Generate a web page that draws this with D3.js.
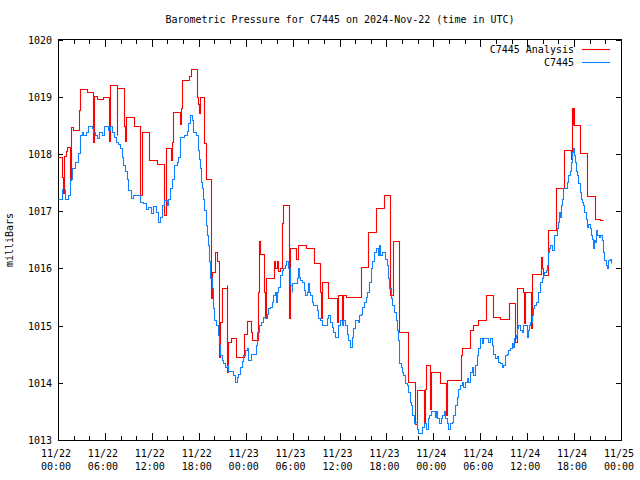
<!DOCTYPE html>
<html><head><meta charset="utf-8">
<script src="https://cdn.jsdelivr.net/npm/d3@7"></script>
<style>body{margin:0;background:#fff}svg{display:block}text{font-family:"DejaVu Sans Mono",monospace;font-size:10px;fill:#000}</style>
</head><body><svg id="c" width="640" height="480"></svg>
<script>
const title = "Barometric Pressure for C7445 on 2024-Nov-22 (time in UTC)";
const yLabel = "milliBars";
const seriesNames = ["C7445 Analysis", "C7445"];
const seriesColors = ["#ff0000", "#1080ff"];
const yTicks = [1013,1014,1015,1016,1017,1018,1019,1020];
const xTickHours = [0,6,12,18,24,30,36,42,48,54,60,66,72];
// [hours since 2024-11-22 00:00 UTC, mbar]
const analysis = [
[0,1017.95],[0.55,1017.6],[0.65,1017.32],[0.8,1017.97],[0.98,1018.05],[1.11,1018.12],[1.5,1017.55],[1.62,1018.47],[1.96,1018.42],[2.69,1018.77],[2.77,1019.13],[3.75,1019.09],[4.52,1018.2],[4.62,1019.01],[4.95,1018.96],[5.8,1019.0],[6.55,1018.23],[6.65,1019.2],[7.5,1018.33],[7.6,1019.15],[8.48,1018.48],[8.55,1018.23],[8.66,1018.65],[9.72,1018.56],[9.76,1018.49],[10.55,1017.28],[10.7,1018.38],[11.7,1017.89],[12.62,1017.82],[13.6,1016.93],[13.75,1018.1],[14.45,1017.89],[14.55,1018.2],[14.75,1018.73],[15.6,1018.53],[15.7,1018.81],[15.81,1019.29],[16.75,1019.37],[17.0,1019.48],[17.73,1019.0],[17.94,1018.88],[18.0,1018.71],[18.1,1019.0],[18.67,1018.88],[18.71,1018.19],[18.89,1017.57],[19.52,1016.52],[19.6,1015.48],[19.73,1015.94],[20.08,1016.29],[20.37,1016.12],[20.55,1014.45],[20.75,1015.07],[21.01,1015.65],[21.57,1015.71],[21.65,1014.19],[21.78,1014.72],[22.08,1014.78],[22.72,1014.45],[23.83,1014.86],[24.13,1015.08],[24.68,1014.89],[24.77,1014.75],[25.62,1015.59],[25.7,1016.47],[25.83,1016.25],[26.39,1015.59],[26.5,1015.13],[26.6,1015.84],[27.66,1016.12],[27.8,1016.0],[27.97,1016.12],[28.18,1015.95],[28.4,1016.0],[28.69,1016.79],[28.81,1017.11],[29.55,1015.13],[29.67,1016.35],[30.43,1016.17],[30.73,1016.4],[31.71,1016.35],[32.78,1016.09],[33.5,1015.59],[33.6,1015.13],[33.72,1015.77],[34.57,1015.48],[35.64,1015.07],[35.8,1015.53],[36.3,1015.07],[36.45,1015.53],[36.8,1015.5],[38.7,1016.03],[39.68,1016.64],[40.66,1017.05],[41.73,1017.29],[42.4,1016.35],[42.5,1015.53],[42.8,1016.47],[43.65,1014.89],[44.71,1014.02],[45.6,1013.28],[45.87,1013.87],[46.85,1013.32],[46.95,1013.9],[47.02,1014.31],[47.6,1013.54],[47.75,1014.19],[48.85,1013.99],[49.6,1013.44],[49.7,1014.05],[51.53,1014.48],[51.62,1014.61],[52.69,1014.92],[53.11,1015.01],[53.75,1015.1],[54.73,1015.53],[55.67,1015.15],[56.52,1015.11],[57.71,1015.39],[58.5,1014.72],[58.7,1015.65],[59.42,1015.59],[59.55,1015.04],[59.7,1015.59],[60.5,1014.95],[60.65,1015.9],[61.72,1016.2],[61.85,1016.0],[62.0,1015.88],[62.7,1016.67],[63.72,1017.41],[64.74,1018.07],[65.6,1017.92],[65.69,1018.8],[65.8,1018.5],[65.85,1018.8],[65.95,1018.5],[66.77,1018.01],[67.6,1017.26],[68.67,1016.87],[69.3,1016.84],[69.65,1016.84]
];
const observed = [
[0,1017.22],[0.5,1017.39],[0.95,1017.22],[1.3,1017.28],[1.53,1017.57],[1.83,1017.75],[2.17,1017.86],[2.51,1018.01],[2.77,1018.33],[3.03,1018.39],[3.24,1018.33],[3.54,1018.39],[3.88,1018.49],[4.3,1018.45],[4.52,1018.39],[4.73,1018.33],[4.95,1018.27],[5.24,1018.39],[5.58,1018.33],[5.92,1018.49],[6.35,1018.42],[6.65,1018.49],[6.86,1018.38],[7.2,1018.3],[7.42,1018.21],[7.71,1018.18],[7.93,1018.1],[8.14,1017.95],[8.36,1017.81],[8.57,1017.7],[8.78,1017.57],[8.99,1017.37],[9.29,1017.23],[9.63,1017.29],[10.49,1017.16],[10.91,1017.14],[11.21,1017.04],[11.55,1017.07],[11.85,1016.96],[12.19,1017.09],[12.49,1016.99],[12.75,1016.81],[13.08,1016.9],[13.34,1017.11],[13.55,1017.19],[13.9,1017.11],[14.1,1017.22],[14.32,1017.4],[14.54,1017.57],[14.83,1017.81],[15.18,1017.86],[15.39,1017.95],[15.6,1018.3],[16.15,1018.33],[16.46,1018.4],[16.67,1018.54],[16.84,1018.68],[17.1,1018.59],[17.31,1018.39],[17.6,1018.33],[17.86,1018.07],[18.03,1017.92],[18.16,1017.75],[18.29,1017.51],[18.46,1017.4],[18.58,1017.22],[18.71,1017.02],[18.89,1016.76],[19.05,1016.58],[19.14,1016.41],[19.31,1016.12],[19.48,1015.83],[19.65,1015.65],[19.82,1015.3],[19.99,1015.1],[20.2,1015.01],[20.42,1014.83],[20.59,1014.66],[20.72,1014.48],[20.93,1014.4],[21.14,1014.34],[21.36,1014.28],[21.57,1014.31],[21.78,1014.2],[22.42,1014.13],[22.63,1014.02],[22.85,1014.1],[23.06,1014.16],[23.27,1014.28],[23.49,1014.38],[23.7,1014.48],[23.91,1014.57],[24.13,1014.6],[24.34,1014.4],[24.68,1014.5],[25.28,1014.66],[25.49,1014.89],[25.7,1015.01],[25.96,1015.07],[26.18,1015.15],[26.47,1015.13],[26.69,1015.21],[26.9,1015.3],[27.11,1015.33],[27.33,1015.42],[27.54,1015.53],[27.75,1015.59],[27.84,1015.42],[27.97,1015.59],[28.18,1015.68],[28.39,1015.88],[28.6,1015.97],[28.81,1016.0],[29.03,1016.06],[29.19,1016.12],[29.45,1016.0],[29.67,1015.71],[29.88,1015.59],[29.96,1015.74],[30.52,1015.83],[30.73,1016.0],[30.82,1015.85],[30.99,1015.8],[31.25,1015.77],[31.42,1015.62],[31.59,1015.53],[31.8,1015.59],[31.93,1015.74],[32.1,1015.59],[32.23,1015.53],[32.44,1015.42],[32.65,1015.36],[33.08,1015.27],[33.29,1015.13],[33.5,1015.1],[33.72,1015.01],[34.36,1015.13],[34.57,1015.18],[34.78,1015.07],[35.0,1014.98],[35.21,1014.89],[35.42,1014.8],[35.85,1015.01],[36.06,1015.1],[36.28,1015.01],[36.49,1015.1],[36.7,1015.01],[36.92,1014.86],[37.13,1014.75],[37.34,1014.63],[37.56,1014.8],[37.77,1014.95],[37.98,1015.1],[38.33,1015.07],[38.49,1015.18],[38.75,1015.21],[38.92,1015.33],[39.17,1015.42],[39.35,1015.5],[39.56,1015.59],[39.77,1015.77],[40.03,1016.0],[40.2,1016.12],[40.37,1016.29],[40.63,1016.35],[40.88,1016.23],[41.05,1016.41],[41.22,1016.23],[41.4,1016.29],[41.82,1016.17],[42.03,1016.06],[42.24,1015.83],[42.37,1015.65],[42.55,1015.48],[42.75,1015.36],[43.01,1015.24],[43.19,1015.1],[43.35,1014.92],[43.52,1014.75],[43.65,1014.34],[43.82,1014.28],[43.95,1014.19],[44.16,1014.13],[44.37,1013.99],[44.59,1013.96],[44.8,1013.84],[45.01,1013.67],[45.14,1013.61],[45.31,1013.44],[45.49,1013.29],[45.65,1013.32],[45.87,1013.2],[46.07,1013.12],[46.59,1013.23],[46.84,1013.29],[47.02,1013.2],[47.28,1013.38],[47.44,1013.44],[47.7,1013.5],[48.21,1013.41],[48.3,1013.5],[48.47,1013.38],[48.72,1013.29],[48.98,1013.38],[49.15,1013.44],[49.32,1013.5],[49.49,1013.38],[49.7,1013.29],[49.91,1013.2],[50.13,1013.29],[50.34,1013.32],[50.55,1013.44],[50.77,1013.61],[50.98,1013.76],[51.19,1013.9],[51.41,1013.96],[51.62,1014.02],[51.83,1013.93],[52.05,1014.02],[52.26,1014.08],[52.47,1014.02],[52.69,1014.19],[52.9,1014.28],[53.11,1014.13],[53.32,1014.31],[53.54,1014.48],[53.75,1014.6],[53.96,1014.78],[54.18,1014.69],[54.39,1014.79],[55.0,1014.72],[55.2,1014.79],[55.46,1014.66],[55.67,1014.51],[55.88,1014.43],[56.1,1014.46],[56.31,1014.37],[56.52,1014.34],[56.74,1014.28],[56.95,1014.31],[57.16,1014.48],[57.38,1014.5],[57.59,1014.57],[57.8,1014.6],[58.02,1014.69],[58.23,1014.63],[58.36,1014.78],[58.53,1014.83],[58.66,1014.95],[58.79,1015.01],[59.08,1014.92],[59.3,1014.89],[59.51,1015.01],[59.93,1014.8],[60.06,1014.92],[60.23,1015.01],[60.36,1015.07],[60.57,1015.18],[60.78,1015.3],[60.91,1015.36],[61.09,1015.42],[61.34,1015.59],[61.68,1015.77],[61.85,1015.83],[62.06,1015.88],[62.19,1015.94],[62.37,1015.97],[62.49,1016.06],[62.62,1016.29],[62.79,1016.35],[62.95,1016.41],[63.13,1016.32],[63.47,1016.58],[63.65,1016.59],[63.81,1016.7],[63.98,1016.81],[64.11,1016.99],[64.24,1016.9],[64.36,1017.11],[64.49,1017.22],[64.62,1017.4],[65.09,1017.51],[65.26,1017.63],[65.44,1017.7],[65.6,1017.86],[65.73,1018.04],[65.86,1018.1],[65.98,1017.98],[66.11,1017.86],[66.24,1017.7],[66.37,1017.63],[66.5,1017.49],[66.75,1017.34],[66.88,1017.22],[67.05,1017.16],[67.18,1017.11],[67.31,1016.99],[67.48,1016.87],[67.65,1016.73],[67.82,1016.78],[68.0,1016.7],[68.16,1016.58],[68.25,1016.52],[68.38,1016.35],[68.5,1016.5],[68.67,1016.46],[68.8,1016.67],[68.97,1016.58],[69.18,1016.55],[69.35,1016.58],[69.52,1016.5],[69.69,1016.29],[69.86,1016.15],[70.04,1016.06],[70.2,1016.0],[70.37,1016.15],[70.55,1016.17],[70.72,1016.1]
];

const base = Date.UTC(2024,10,22);
const toDate = h => new Date(base + h*3600e3);
const svg = d3.select("#c");
const L=58, R=621, T=39.5, B=440;
const x = d3.scaleUtc().domain([toDate(0), toDate(72)]).range([L,R]);
const y = d3.scaleLinear().domain([1013,1020]).range([B,T]);
const px = v => Math.round(v) + 0.5;

// frame
svg.append("rect").attr("x",L+0.5).attr("y",T).attr("width",R-L).attr("height",B-T)
  .attr("fill","none").attr("stroke","#000").attr("stroke-width",1).attr("shape-rendering","crispEdges");

const major = xTickHours.map(toDate);
const minor = d3.utcHour.every(2).range(toDate(0), toDate(72.01)).filter(d => (d - base)/3600e3 % 6 !== 0);
const tickG = svg.append("g").attr("stroke","#000").attr("shape-rendering","crispEdges");
major.forEach(d=>{
  const p = px(x(d));
  tickG.append("line").attr("x1",p).attr("x2",p).attr("y1",B).attr("y2",B-7);
  tickG.append("line").attr("x1",p).attr("x2",p).attr("y1",T).attr("y2",T+7);
});
minor.forEach(d=>{
  const p = px(x(d));
  tickG.append("line").attr("x1",p).attr("x2",p).attr("y1",B).attr("y2",B-4);
  tickG.append("line").attr("x1",p).attr("x2",p).attr("y1",T).attr("y2",T+4);
});
yTicks.forEach(v=>{
  const p = px(y(v));
  tickG.append("line").attr("x1",L).attr("x2",L+5).attr("y1",p).attr("y2",p);
  tickG.append("line").attr("x1",R).attr("x2",R-5).attr("y1",p).attr("y2",p);
  svg.append("text").attr("x",L-6).attr("y",y(v)+4).attr("text-anchor","end").text(v);
});
const f1 = d3.utcFormat("%m/%d"), f2 = d3.utcFormat("%H:%M");
major.forEach(d=>{
  const t = svg.append("text").attr("text-anchor","middle");
  t.append("tspan").attr("x",x(d)-2).attr("y",457).text(f1(d));
  t.append("tspan").attr("x",x(d)-2).attr("y",470).text(f2(d));
});

svg.append("text").attr("x",340).attr("y",23).attr("text-anchor","middle").text(title);
svg.append("text").attr("transform","translate(13,240) rotate(-90)").attr("text-anchor","middle").text(yLabel);

const line = d3.line().x(d=>px(x(toDate(d[0])))).y(d=>px(y(d[1]))).curve(d3.curveStepAfter);
[analysis, observed].forEach((s,i)=>{
  svg.append("path").datum(s).attr("d",line).attr("fill","none")
    .attr("stroke",seriesColors[i]).attr("stroke-width",1.1).attr("stroke-linejoin","miter");
});

// legend
seriesNames.forEach((n,i)=>{
  const ly = 49 + i*13;
  svg.append("text").attr("x",574).attr("y",ly+4).attr("text-anchor","end").text(n);
  svg.append("line").attr("x1",582).attr("x2",610).attr("y1",ly+0.5).attr("y2",ly+0.5)
    .attr("stroke",seriesColors[i]).attr("stroke-width",1.1);
});
</script></body></html>
